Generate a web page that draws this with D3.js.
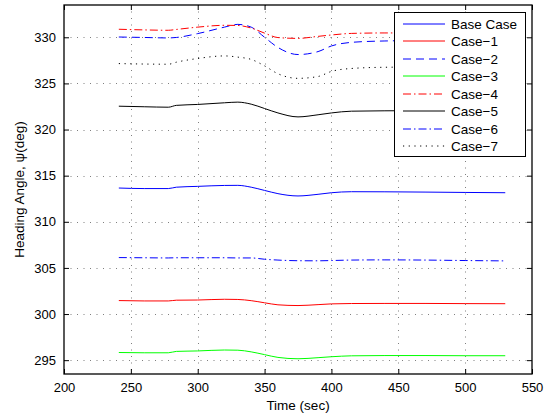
<!DOCTYPE html>
<html>
<head>
<meta charset="utf-8">
<script src="https://cdn.jsdelivr.net/npm/d3@7"></script>
<style>
  body { margin: 0; background: #fff; }
  text { font-family: "Liberation Sans", Arial, Helvetica, sans-serif; }
</style>
</head>
<body>
<svg id="chart" width="552" height="420"></svg>
<script>
// time samples (sec)
var times = [241, 260, 278, 284, 300, 320, 330, 340, 350, 360, 375, 390, 400, 415, 440, 470, 500, 530];

// heading angle per case (deg)
var baseCase = [313.66, 313.6, 313.6, 313.75, 313.84, 313.94, 313.95, 313.75, 313.4, 313.05, 312.8, 312.98, 313.15, 313.26, 313.25, 313.22, 313.18, 313.15];
var case1 = [301.46, 301.42, 301.42, 301.5, 301.52, 301.6, 301.58, 301.45, 301.22, 301.0, 300.92, 301.02, 301.1, 301.14, 301.15, 301.15, 301.13, 301.12];
var case2 = [330.03, 329.98, 329.93, 329.98, 330.4, 331.1, 331.4, 331.1, 330.0, 328.9, 328.13, 328.45, 329.06, 329.45, 329.6, 329.65, 329.68, 329.7];
var case3 = [295.83, 295.8, 295.8, 295.95, 296.0, 296.1, 296.08, 295.9, 295.6, 295.3, 295.15, 295.27, 295.37, 295.47, 295.5, 295.5, 295.48, 295.48];
var case4 = [330.87, 330.8, 330.76, 330.85, 331.1, 331.3, 331.28, 331.0, 330.45, 329.97, 329.88, 330.1, 330.25, 330.42, 330.47, 330.47, 330.45, 330.45];
var case5 = [322.53, 322.47, 322.42, 322.62, 322.72, 322.9, 322.97, 322.75, 322.28, 321.8, 321.37, 321.6, 321.8, 321.99, 322.03, 322.05, 322.05, 322.05];
var case6 = [306.12, 306.1, 306.08, 306.1, 306.1, 306.1, 306.08, 306.08, 305.94, 305.85, 305.78, 305.77, 305.8, 305.85, 305.87, 305.85, 305.8, 305.76];
var case7 = [327.15, 327.1, 327.08, 327.3, 327.7, 327.98, 327.85, 327.6, 326.9, 326.05, 325.55, 325.75, 326.3, 326.62, 326.75, 326.78, 326.8, 326.8];

var seriesNames = ["Base Case", "Case\u22121", "Case\u22122", "Case\u22123", "Case\u22124", "Case\u22125", "Case\u22126", "Case\u22127"];
var seriesValues = [baseCase, case1, case2, case3, case4, case5, case6, case7];

var xTicks = [200, 250, 300, 350, 400, 450, 500, 550];
var yTicks = [295, 300, 305, 310, 315, 320, 325, 330];

// styles for each series (MATLAB look)
var colors = ["#0000ff", "#ff0000", "#0000ff", "#00ff00", "#ff0000", "#000000", "#0000ff", "#000000"];
var dashes = [null, null, "8,5", null, "8,3,1.5,3", null, "8,3,1.5,3", "1.2,4.5"];

var svg = d3.select("#chart");

// plot box
var boxL = 64, boxR = 532, boxT = 5, boxB = 374;

var x = d3.scaleLinear().domain([200, 550]).range([boxL, boxR]);
var y = d3.scaleLinear().domain([293.5, 333.5]).range([boxB, boxT]);

// grid lines (dotted)
var grid = svg.append("g").attr("stroke", "#000").attr("stroke-opacity", 0.5)
  .attr("stroke-width", 1).attr("stroke-dasharray", "1,5.5");
xTicks.slice(1, -1).forEach(function(t) {
  grid.append("line").attr("x1", Math.round(x(t)) + 0.5).attr("x2", Math.round(x(t)) + 0.5)
    .attr("y1", boxT).attr("y2", boxB);
});
yTicks.forEach(function(t) {
  grid.append("line").attr("x1", boxL).attr("x2", boxR)
    .attr("y1", Math.round(y(t)) + 0.5).attr("y2", Math.round(y(t)) + 0.5);
});

// lines
var line = d3.line()
  .x(function(d) { return x(d[0]); })
  .y(function(d) { return y(d[1]); })
  .curve(d3.curveMonotoneX);

seriesValues.forEach(function(vals, i) {
  var pts = times.map(function(t, j) { return [t, vals[j]]; });
  svg.append("path")
    .datum(pts)
    .attr("d", line)
    .attr("fill", "none")
    .attr("stroke", colors[i])
    .attr("stroke-width", 1)
    .attr("stroke-dasharray", dashes[i]);
});

// axes: ticks inside on all four sides
var tickLen = 5;
var bottomAxis = d3.axisBottom(x).tickValues(xTicks).tickSizeInner(-tickLen).tickSizeOuter(0).tickPadding(9);
var topAxis = d3.axisTop(x).tickValues(xTicks).tickSizeInner(-tickLen).tickSizeOuter(0).tickFormat("");
var leftAxis = d3.axisLeft(y).tickValues(yTicks).tickSizeInner(-tickLen).tickSizeOuter(0).tickPadding(8);
var rightAxis = d3.axisRight(y).tickValues(yTicks).tickSizeInner(-tickLen).tickSizeOuter(0).tickFormat("");

function styleAxis(g) {
  g.select(".domain").remove();
  g.selectAll("line").attr("stroke", "#000");
  g.selectAll("text").attr("fill", "#000").style("font-size", "13px")
    .style("font-family", "'Liberation Sans', Arial, sans-serif");
}

svg.append("g").attr("transform", "translate(0," + boxB + ")").call(bottomAxis).call(styleAxis);
svg.append("g").attr("transform", "translate(0," + boxT + ")").call(topAxis).call(styleAxis);
svg.append("g").attr("transform", "translate(" + boxL + ",0)").call(leftAxis).call(styleAxis);
svg.append("g").attr("transform", "translate(" + boxR + ",0)").call(rightAxis).call(styleAxis);

// box
svg.append("rect").attr("x", boxL).attr("y", boxT)
  .attr("width", boxR - boxL).attr("height", boxB - boxT)
  .attr("fill", "none").attr("stroke", "#000").attr("stroke-width", 1.3);

// axis labels
svg.append("text").attr("x", (boxL + boxR) / 2).attr("y", 410)
  .attr("text-anchor", "middle").style("font-size", "13.5px")
  .text("Time (sec)");
svg.append("text")
  .attr("transform", "translate(24," + (boxT + boxB) / 2 + ") rotate(-90)")
  .attr("text-anchor", "middle").style("font-size", "13.5px")
  .text("Heading Angle, \u03c8(deg)");

// legend
var legend = svg.append("g");
legend.append("rect").attr("x", 394.5).attr("y", 12.5).attr("width", 131).attr("height", 144)
  .attr("fill", "#fff").attr("stroke", "#000").attr("stroke-width", 1);
seriesNames.forEach(function(name, i) {
  var ly = Math.round(23.5 + i * 17.5);
  legend.append("line").attr("x1", 403).attr("x2", 445).attr("y1", ly).attr("y2", ly)
    .attr("stroke", colors[i]).attr("stroke-width", 1)
    .attr("stroke-dasharray", dashes[i]);
  legend.append("text").attr("x", 451).attr("y", ly).attr("dy", "0.35em")
    .style("font-size", "13.5px").text(name);
});
</script>
</body>
</html>
